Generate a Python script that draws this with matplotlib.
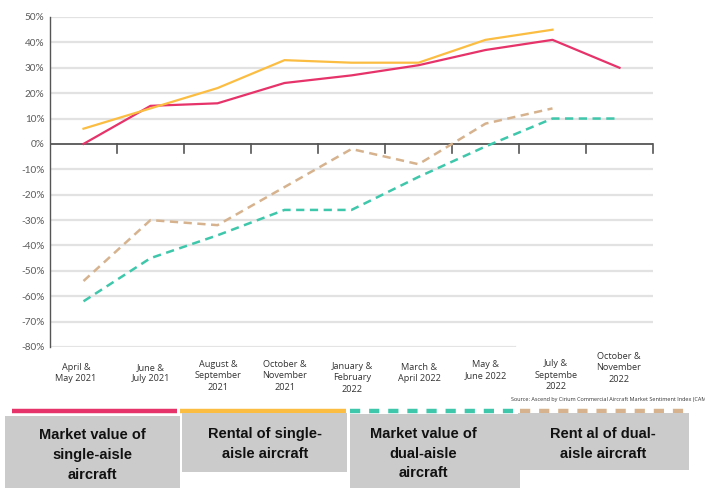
import matplotlib
matplotlib.use("Agg")
import matplotlib.pyplot as plt
from matplotlib.lines import Line2D
from matplotlib.patches import Rectangle

# ---- data ----
categories = ["April &\nMay 2021", "June &\nJuly 2021", "August &\nSeptember\n2021",
              "October &\nNovember\n2021", "January &\nFebruary\n2022", "March &\nApril 2022",
              "May &\nJune 2022", "July &\nSeptembe\n2022", "October &\nNovember\n2022"]
mv_single = [0, 15, 16, 24, 27, 31, 37, 41, 30]
rent_single = [6, 14, 22, 33, 32, 32, 41, 45]
mv_dual = [-62, -45, -36, -26, -26, -13, -1, 10, 10]
rent_dual = [-54, -30, -32, -17, -2, -8, 8, 14]
y_ticks = [50, 40, 30, 20, 10, 0, -10, -20, -30, -40, -50, -60, -70, -80]
legend_labels = ["Market value of\nsingle-aisle\naircraft", "Rental of single-\naisle aircraft",
                 "Market value of\ndual-aisle\naircraft", "Rent al of dual-\naisle aircraft"]
source = "Source: Ascend by Cirium Commercial Aircraft Market Sentiment Index (CAM"

c_pink = "#e6336a"
c_orange = "#fbbd42"
c_teal = "#3fc7ab"
c_tan = "#d6b38e"

W, H = 705, 488
fig = plt.figure(figsize=(W / 100, H / 100), dpi=100)

def fx(px):
    return px / W

def fy(py):
    return 1 - py / H

ax = fig.add_axes([fx(50), fy(347), fx(653) - fx(50), fy(17) - fy(347)])
ax.set_xlim(-0.5, len(categories) - 0.5)
ax.set_ylim(-80, 50)

# gridlines
for v in y_ticks:
    if v == 0:
        continue
    if v == -80:
        ax.axhline(v, xmin=0, xmax=(515 - 50) / 603, color="#e4e4e4", lw=1.6, zorder=0)
    else:
        ax.axhline(v, color="#e2e2e2", lw=1.6, zorder=0)
ax.axhline(0, color="#555555", lw=1.3, zorder=1)

for s in ["top", "right", "bottom"]:
    ax.spines[s].set_visible(False)
ax.spines["left"].set_color("#555555")
ax.spines["left"].set_linewidth(1.0)

ax.set_yticks(y_ticks)
ax.set_yticklabels([f"{v}%" for v in y_ticks], fontsize=7.2, color="#5a5a5a", family="Lato")
ax.tick_params(axis="y", length=0, pad=4)
ax.set_xticks([])

# boundary ticks on the zero line
for k in range(len(categories)):
    ax.plot([k + 0.5, k + 0.5], [0, -3.5], color="#555555", lw=1.2, zorder=1, clip_on=False)

x = list(range(len(categories)))
ax.plot(x[:len(mv_single)], mv_single, color=c_pink, lw=1.6, zorder=3)
ax.plot(x[:len(rent_single)], rent_single, color=c_orange, lw=1.6, zorder=3)
ax.plot(x[:len(mv_dual)], mv_dual, color=c_teal, lw=1.8, dashes=(3.3, 2.2), zorder=3)
ax.plot(x[:len(rent_dual)], rent_dual, color=c_tan, lw=1.8, dashes=(3.3, 2.2), zorder=3)

# category labels
label_px = [(76, 373), (151, 373), (218, 376), (285, 376), (352, 378), (419, 373),
            (486, 370), (556, 375), (619, 368)]
for lab, (px, py) in zip(categories, label_px):
    fig.text(fx(px), fy(py), lab, ha="center", va="center", fontsize=6.6,
             color="#333333", family="Open Sans", linespacing=1.35)

fig.text(fx(511), fy(399), source, ha="left", va="center", fontsize=3.95,
         color="#333333", family="Open Sans")

# legend bars
bars = [(12, 177, c_pink, None), (180, 346, c_orange, None),
        (350, 516, c_teal, (2.3, 2.0)), (520, 686, c_tan, (2.3, 2.0))]
for x0, x1, col, dash in bars:
    ln = Line2D([fx(x0), fx(x1)], [fy(411), fy(411)], transform=fig.transFigure,
                color=col, lw=3.2, solid_capstyle="butt", dash_capstyle="butt")
    if dash:
        ln.set_dashes(dash)
    fig.add_artist(ln)

# grey label boxes
boxes = [(5, 416, 180, 488, 92, [435, 455, 475]),
         (182, 413, 347, 472, 265, [434, 454]),
         (350, 414, 520, 488, 423, [434, 454, 473]),
         (518, 413, 689, 470, 603, [434, 454])]
for (x0, y0, x1, y1, cx, lines), lab in zip(boxes, legend_labels):
    fig.add_artist(Rectangle((fx(x0), fy(y1)), fx(x1) - fx(x0), fy(y0) - fy(y1),
                             transform=fig.transFigure, facecolor="#cbcbcb",
                             edgecolor="none", zorder=2))
    for ln_txt, ly in zip(lab.split("\n"), lines):
        fig.text(fx(cx), fy(ly), ln_txt, ha="center", va="center", fontsize=10.5,
                 fontweight="bold", color="#111111", family="Liberation Sans", zorder=3)

fig.savefig("out.png", dpi=100)
